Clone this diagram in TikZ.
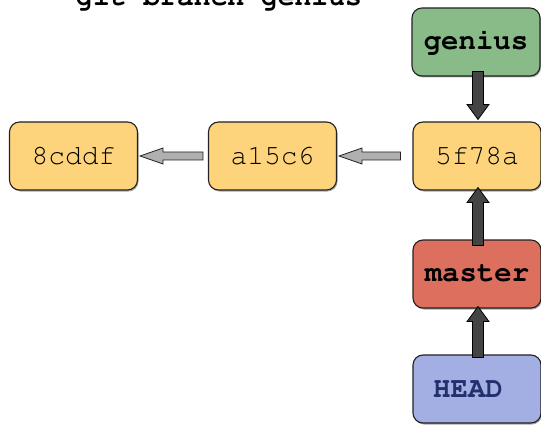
\documentclass[tikz,border=0pt]{standalone}
\usepackage[T1]{fontenc}
\usetikzlibrary{calc,shadows}
\newcommand{\cour}{\fontencoding{T1}\fontfamily{pcr}\selectfont}
\definecolor{cyellow}{HTML}{FDD37B}
\definecolor{cgreen}{HTML}{88BB88}
\definecolor{cred}{HTML}{DD6F5F}
\definecolor{cblue}{HTML}{A3AEE3}
\definecolor{cnavy}{HTML}{23306E}
\definecolor{cdark}{HTML}{444444}
\definecolor{cgray}{HTML}{B0B0B0}
\definecolor{cline}{HTML}{222222}
\tikzset{
  box/.style={draw=cline, line width=1.1pt, rounded corners=10pt,
    minimum width=128pt, minimum height=68pt, inner sep=0pt,
    font=\cour\fontsize{28}{28}\selectfont,
    drop shadow={shadow xshift=1pt, shadow yshift=-1.5pt, opacity=0.35, fill=black}},
  commit/.style={box, fill=cyellow},
  refbox/.style={box, font=\cour\bfseries\fontsize{29}{29}\selectfont},
  darkarrow/.style={fill=cdark, draw=black, line width=0.8pt, line join=miter},
  grayarrow/.style={fill=cgray, draw=cline, line width=0.8pt, line join=miter}
}
\newcommand{\varrow}[3][darkarrow]{% tail, tip (vertical)
  \path[#1] let \p1=(#2), \p2=(#3), \n1={ifthenelse(\y2>\y1,1,-1)} in
    (\x1-5.5pt,\y1) -- (\x1-5.5pt,\y2-\n1*15pt) -- (\x1-11pt,\y2-\n1*15pt) -- (\x1,\y2)
    -- (\x1+11pt,\y2-\n1*15pt) -- (\x1+5.5pt,\y2-\n1*15pt) -- (\x1+5.5pt,\y1) -- cycle;}
\newcommand{\harrow}[3][grayarrow]{% tail, tip (horizontal, leftwards)
  \path[#1] let \p1=(#2), \p2=(#3) in
    (\x1,\y1+4pt) -- (\x2+23pt,\y1+4pt) -- (\x2+23pt,\y1+8pt) -- (\x2,\y1)
    -- (\x2+23pt,\y1-8pt) -- (\x2+23pt,\y1-4pt) -- (\x1,\y1-4pt) -- cycle;}
\begin{document}
\begin{tikzpicture}[x=1pt,y=-1pt]
\useasboundingbox (0,0) rectangle (541,425);
\node[anchor=base west, font=\cour\bfseries\fontsize{28}{28}\selectfont, inner sep=0pt] (title) at (76,6) {git branch genius};
\node[refbox, fill=cgreen] (genius) at (476,42) {genius};
\node[commit] (c3) at (477,156) {5f78a};
\node[commit] (c2) at (272.5,156) {a15c6};
\node[commit] (c1) at (73.5,156) {8cddf};
\node[refbox, fill=cred] (master) at (477,274) {master};
\node[refbox, fill=cblue, text=cnavy] (head) at (477,389) {\hspace*{-18pt}\raisebox{-3pt}{HEAD}};
% vertical arrows
\coordinate (a1s) at ($(genius.south)+(2,-5)$);
\coordinate (a1e) at ($(c3.north)+(0,-2)$);
\varrow{a1s}{a1e}
\coordinate (a2s) at ($(master.north)+(1,6)$);
\coordinate (a2e) at ($(c3.south)+(1,-3)$);
\varrow{a2s}{a2e}
\coordinate (a3s) at ($(head.north)+(1,3)$);
\coordinate (a3e) at ($(master.south)+(1,-2)$);
\varrow{a3s}{a3e}
% horizontal arrows
\coordinate (h1s) at ($(c2.west)+(-5,0)$);
\coordinate (h1e) at ($(c1.east)+(2,0)$);
\harrow{h1s}{h1e}
\coordinate (h2s) at ($(c3.west)+(-12,0)$);
\coordinate (h2e) at ($(c2.east)+(2,0)$);
\harrow{h2s}{h2e}
\end{tikzpicture}
\end{document}
